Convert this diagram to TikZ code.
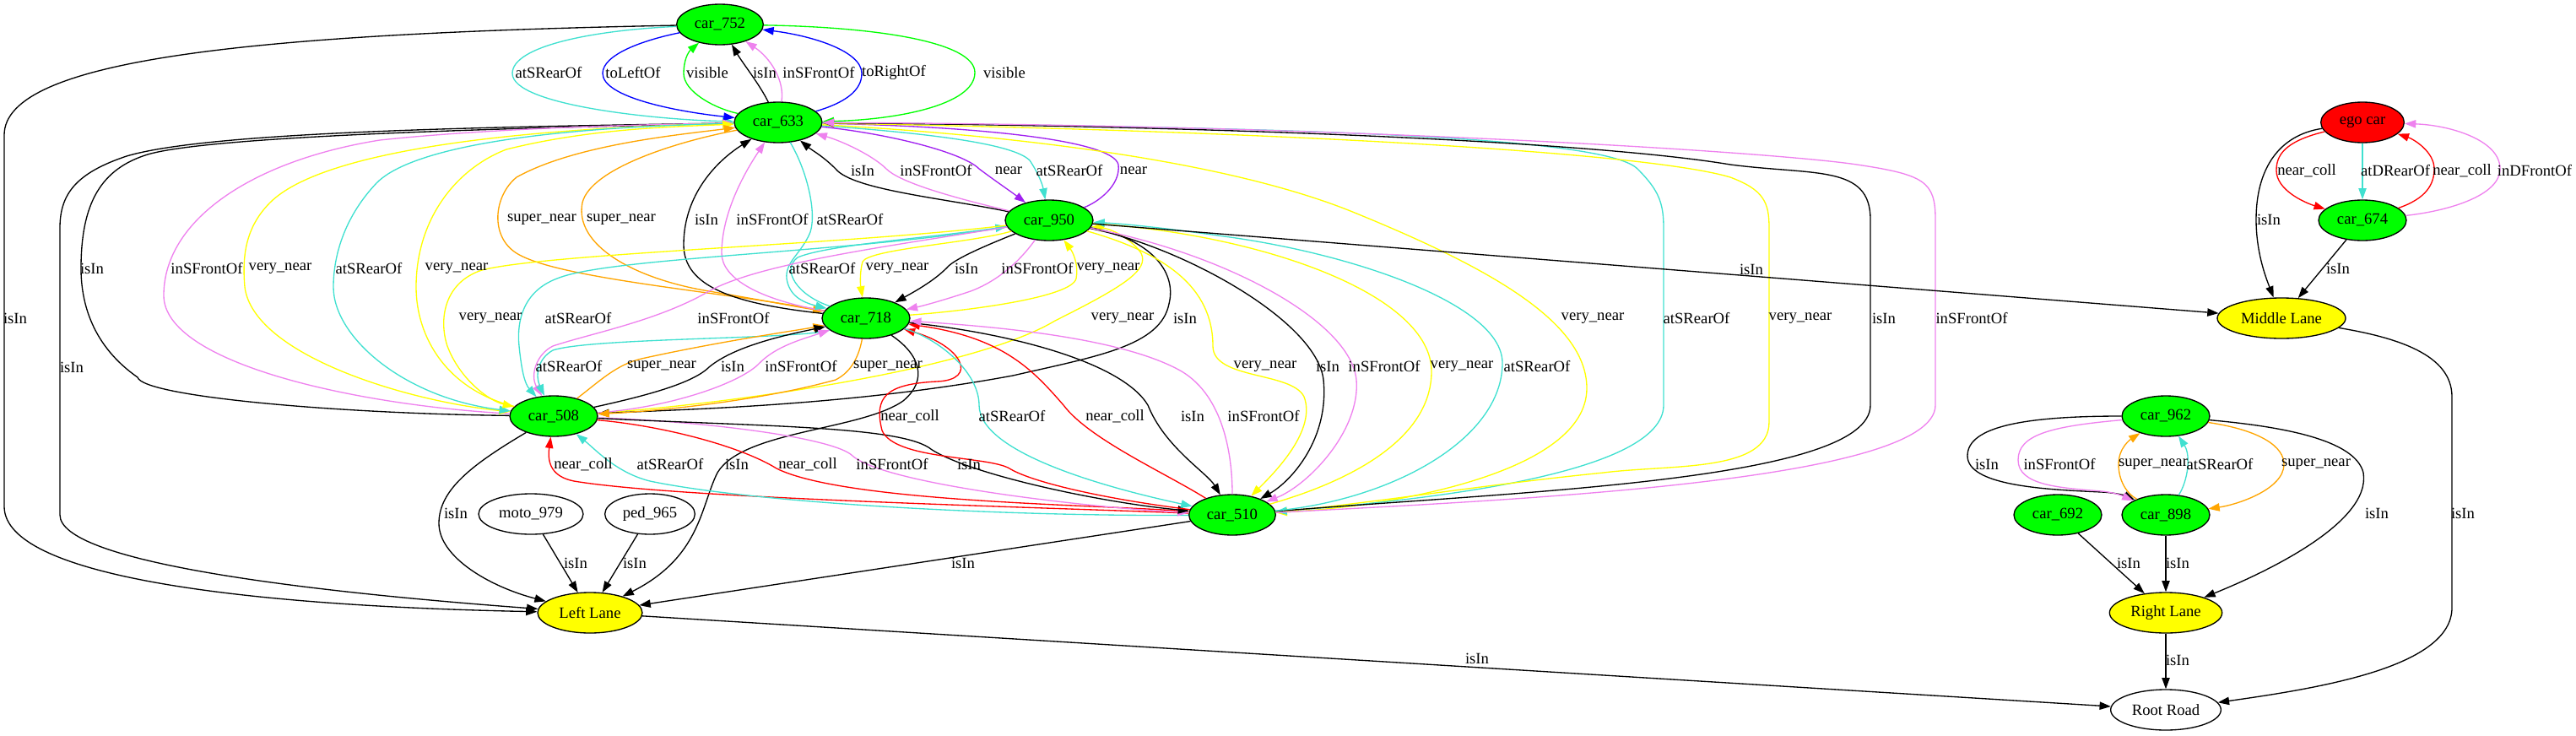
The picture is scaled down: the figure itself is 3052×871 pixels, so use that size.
\documentclass[tikz,border=0pt]{standalone}
\usepackage{fontspec}
\setmainfont{Liberation Serif}
\usetikzlibrary{arrows.meta,shapes.geometric}
\definecolor{gvgreen}{HTML}{00FF00}
\definecolor{gvred}{HTML}{FF0000}
\definecolor{gvyellow}{HTML}{FFFF00}
\definecolor{gvblue}{HTML}{0000FF}
\definecolor{turq}{HTML}{40E0D0}
\definecolor{viol}{HTML}{EE82EE}
\definecolor{orng}{HTML}{FFA500}
\definecolor{purp}{HTML}{A020F0}
\newcommand{\gvfont}{\fontsize{14pt}{16pt}\selectfont}
\tikzset{
 gv/.style={ellipse, draw=black, line width=1pt, inner sep=0pt, minimum height=36pt, font=\gvfont},
 carn/.style={gv, fill=gvgreen, minimum width=78pt},
 lane/.style={gv, fill=gvyellow},
 lbl/.style={inner sep=0pt, font=\gvfont},
 fw/.style={-{Triangle[length=10pt,width=7pt]}, line width=1pt},
 bw/.style={{Triangle[length=10pt,width=7pt]}-, line width=1pt},
}
\begin{document}
\begin{tikzpicture}[x=0.75pt,y=-0.75pt]
\useasboundingbox (0,0) rectangle (3052,871);
% nodes
\node[carn, minimum width=77pt] (c752) at (853,29) {car\_752};
\node[carn] (c633) at (922,145) {car\_633};
\node[carn] (c950) at (1243,261) {car\_950};
\node[carn] (c718) at (1026,377) {car\_718};
\node[carn] (c508) at (656,493) {car\_508};
\node[carn, minimum width=77pt] (c510) at (1460,610) {car\_510};
\node[gv, minimum width=93pt] (moto) at (629,609) {moto\_979};
\node[gv, minimum width=80pt] (ped) at (770,609) {ped\_965};
\node[lane, minimum width=93pt] (LL) at (699,726) {Left Lane};
\node[gv, fill=gvred, minimum width=74pt] (ego) at (2799,145) {ego car};
\node[carn] (c674) at (2799,261) {car\_674};
\node[lane, minimum width=114pt] (ML) at (2703,377) {Middle Lane};
\node[carn] (c962) at (2566,493) {car\_962};
\node[carn] (c692) at (2438,610) {car\_692};
\node[carn] (c898) at (2566,610) {car\_898};
\node[lane, minimum width=100pt] (RL) at (2566,726) {Right Lane};
\node[gv, minimum width=98pt] (RR) at (2566,841) {Root Road};

% car_752 <-> car_633
\draw[fw,turq] (c752) .. controls (700,36) and (607,55) .. (607,87) .. controls (607,125) and (780,142) .. (c633);
\draw[fw,gvblue] (c752) .. controls (760,48) and (714,65) .. (714,87) .. controls (714,115) and (800,132) .. (c633);
\draw[fw,gvgreen] (c633) .. controls (845,128) and (810,108) .. (810,87) .. controls (810,72) and (815,62) .. (c752);
\draw[fw] (c633) .. controls (900,100) and (880,75) .. (c752);
\draw[fw,viol] (c633) .. controls (930,95) and (912,68) .. (c752);
\draw[fw,gvblue] (c633) .. controls (1000,122) and (1021,108) .. (1021,87) .. controls (1021,60) and (960,42) .. (c752);
\draw[fw,gvgreen] (c752) .. controls (1040,32) and (1155,50) .. (1155,86) .. controls (1155,125) and (1060,142) .. (c633);

% far left
\draw[fw] (c752) .. controls (300,40) and (5,70) .. (5,160) -- (5,600) .. controls (5,685) and (300,718) .. (LL);
\draw[fw] (c633) .. controls (600,150) and (250,155) .. (150,185) .. controls (90,205) and (71,230) .. (71,270) -- (71,610) .. controls (71,665) and (350,700) .. (LL);
\draw[fw] (c508) .. controls (400,490) and (170,470) .. (163,447) .. controls (110,410) and (96,360) .. (96,318) .. controls (96,240) and (120,200) .. (175,183) .. controls (260,158) and (700,150) .. (c633);
\draw[fw,viol] (c508) .. controls (420,480) and (194,430) .. (194,350) .. controls (194,260) and (300,190) .. (450,166) .. controls (600,150) and (800,147) .. (c633);
\draw[fw,gvyellow] (c633) .. controls (600,152) and (380,180) .. (320,240) .. controls (290,270) and (287,305) .. (290,340) .. controls (300,420) and (480,475) .. (c508);
\draw[fw,turq] (c633) .. controls (600,152) and (480,182) .. (446,217) .. controls (410,255) and (395,300) .. (395,340) .. controls (395,400) and (480,472) .. (c508);
\draw[fw,gvyellow] (c508) .. controls (530,462) and (493,400) .. (493,340) .. controls (493,260) and (540,200) .. (600,177) .. controls (700,152) and (800,150) .. (c633);

% car_633 <-> car_718
\draw[fw,orng] (c718) .. controls (850,345) and (660,330) .. (612,300) .. controls (580,280) and (585,232) .. (612,210) .. controls (680,172) and (800,160) .. (c633);
\draw[fw,orng] (c633) .. controls (800,168) and (700,200) .. (690,240) .. controls (680,290) and (750,330) .. (840,345) .. controls (900,355) and (935,362) .. (c718);
\draw[fw] (c718) .. controls (870,360) and (810,340) .. (810,290) .. controls (810,230) and (850,190) .. (c633);
\draw[fw,viol] (c718) .. controls (900,355) and (855,330) .. (855,300) .. controls (855,250) and (885,200) .. (c633);
\draw[fw,turq] (c633) .. controls (955,200) and (968,250) .. (960,275) .. controls (950,300) and (930,310) .. (932,330) .. controls (935,350) and (950,358) .. (c718);

% car_633 <-> car_950
\draw[fw] (c950) .. controls (1120,235) and (1010,225) .. (990,200) .. controls (975,185) and (962,178) .. (c633);
\draw[fw,viol] (c950) .. controls (1120,232) and (1065,215) .. (1050,200) .. controls (1035,185) and (1000,168) .. (c633);
\draw[fw,purp] (c633) .. controls (1050,158) and (1140,180) .. (1160,200) .. controls (1180,215) and (1195,225) .. (c950);
\draw[fw,turq] (c633) .. controls (1100,158) and (1200,170) .. (1220,190) .. controls (1230,205) and (1235,218) .. (c950);
\draw[fw,purp] (c950) .. controls (1300,240) and (1328,220) .. (1325,195) .. controls (1318,165) and (1150,150) .. (c633);

% car_633 <-> car_510 (long)
\draw[fw,gvyellow] (c633) .. controls (1200,160) and (1450,190) .. (1600,250) .. controls (1760,315) and (1880,380) .. (1880,460) .. controls (1880,560) and (1650,600) .. (c510);
\draw[fw,turq] (c633) .. controls (1500,150) and (1900,160) .. (1940,200) .. controls (1965,225) and (1971,240) .. (1971,270) -- (1971,480) .. controls (1971,560) and (1700,592) .. (c510);
\draw[bw,gvyellow] (c633) .. controls (1500,155) and (1950,180) .. (2050,210) .. controls (2090,225) and (2096,240) .. (2096,270) -- (2096,500) .. controls (2096,560) and (1980,550) .. (1900,560) .. controls (1750,575) and (1600,600) .. (c510);
\draw[bw] (c633) .. controls (1500,150) and (1900,170) .. (2050,195) .. controls (2150,208) and (2216,195) .. (2216,260) -- (2216,480) .. controls (2216,570) and (1800,582) .. (c510);
\draw[bw,viol] (c633) .. controls (1600,148) and (2100,180) .. (2200,195) .. controls (2280,207) and (2293,215) .. (2293,260) -- (2293,480) .. controls (2293,570) and (1800,592) .. (c510);

% car_950 <-> car_718
\draw[fw,turq] (c718) .. controls (945,350) and (925,320) .. (945,305) .. controls (980,290) and (1100,282) .. (c950);
\draw[fw,gvyellow] (c950) .. controls (1150,288) and (1030,295) .. (1022,310) .. controls (1019,320) and (1019,335) .. (c718);
\draw[fw] (c950) .. controls (1170,290) and (1135,305) .. (1124,315) .. controls (1110,330) and (1090,342) .. (c718);
\draw[fw,viol] (c950) .. controls (1215,300) and (1190,330) .. (1150,345) .. controls (1120,355) and (1095,362) .. (c718);
\draw[fw,gvyellow] (c718) .. controls (1150,368) and (1270,352) .. (1275,330) .. controls (1278,315) and (1272,300) .. (c950);

% car_950 <-> car_508
\draw[fw,gvyellow] (c950) .. controls (1000,290) and (650,300) .. (571,320) .. controls (525,335) and (520,380) .. (530,410) .. controls (545,450) and (580,475) .. (c508);
\draw[fw,turq] (c950) .. controls (1000,300) and (720,305) .. (660,330) .. controls (620,345) and (612,380) .. (615,410) .. controls (618,440) and (622,455) .. (c508);
\draw[fw,viol] (c950) .. controls (1050,292) and (900,312) .. (840,345) .. controls (780,380) and (700,395) .. (655,410) .. controls (635,420) and (628,445) .. (c508);
\draw[fw,gvyellow] (c508) .. controls (850,480) and (1150,440) .. (1250,380) .. controls (1330,340) and (1362,320) .. (1352,300) .. controls (1342,285) and (1320,272) .. (c950);
\draw[fw] (c950) .. controls (1360,282) and (1395,320) .. (1385,360) .. controls (1375,410) and (1300,422) .. (1200,445) .. controls (1000,482) and (800,485) .. (c508);

% car_718 <-> car_508
\draw[fw,turq] (c718) .. controls (950,402) and (700,400) .. (655,415) .. controls (637,425) and (634,445) .. (c508);
\draw[fw,orng] (c508) .. controls (710,452) and (730,432) .. (760,425) .. controls (850,405) and (940,392) .. (c718);
\draw[fw] (c508) .. controls (760,470) and (820,455) .. (840,435) .. controls (870,410) and (930,397) .. (c718);
\draw[fw,viol] (c508) .. controls (800,482) and (880,452) .. (900,430) .. controls (920,410) and (950,402) .. (c718);
\draw[fw,orng] (c718) .. controls (1018,420) and (1010,440) .. (990,450) .. controls (900,475) and (780,487) .. (c508);

% car_718 -> Left Lane
\draw[fw] (c718) .. controls (1090,420) and (1100,450) .. (1070,475) .. controls (1020,510) and (880,510) .. (850,560) .. controls (830,600) and (830,660) .. (LL);

% car_508 <-> car_510
\draw[fw,gvred] (c510) .. controls (1200,600) and (800,590) .. (680,570) .. controls (655,565) and (648,550) .. (c508);
\draw[fw,turq] (c510) .. controls (1200,612) and (900,597) .. (770,570) .. controls (730,560) and (705,532) .. (c508);
\draw[fw,gvred] (c508) .. controls (790,505) and (880,530) .. (920,555) .. controls (1000,595) and (1300,598) .. (c510);
\draw[fw,viol] (c508) .. controls (850,500) and (990,520) .. (1010,540) .. controls (1050,575) and (1300,602) .. (c510);
\draw[fw] (c508) .. controls (900,505) and (1060,505) .. (1100,530) .. controls (1140,560) and (1300,595) .. (c510);

% car_718 <-> car_510
\draw[fw,gvred] (c510) .. controls (1300,590) and (1220,570) .. (1196,555) .. controls (1170,540) and (1060,545) .. (1045,510) .. controls (1035,470) and (1050,455) .. (1110,452) .. controls (1160,450) and (1140,410) .. (c718);
\draw[fw,turq] (c718) .. controls (1110,400) and (1160,440) .. (1160,480) .. controls (1160,540) and (1330,582) .. (c510);
\draw[fw,gvred] (c510) .. controls (1380,560) and (1290,520) .. (1260,480) .. controls (1225,440) and (1190,400) .. (c718);
\draw[fw] (c718) .. controls (1200,395) and (1330,430) .. (1360,480) .. controls (1380,530) and (1430,560) .. (c510);
\draw[fw,viol] (c510) .. controls (1460,540) and (1450,470) .. (1400,440) .. controls (1330,400) and (1180,387) .. (c718);

% car_950 <-> car_510
\draw[fw,gvyellow] (c950) .. controls (1380,300) and (1437,340) .. (1437,410) .. controls (1437,450) and (1530,440) .. (1545,470) .. controls (1560,510) and (1510,560) .. (c510);
\draw[fw] (c950) .. controls (1400,292) and (1560,380) .. (1568,450) .. controls (1575,520) and (1530,570) .. (c510);
\draw[fw,viol] (c950) .. controls (1450,300) and (1600,380) .. (1607,450) .. controls (1612,510) and (1550,575) .. (c510);
\draw[fw,gvyellow] (c510) .. controls (1600,570) and (1696,520) .. (1696,440) .. controls (1696,350) and (1500,280) .. (c950);
\draw[fw,turq] (c510) .. controls (1650,592) and (1780,520) .. (1780,430) .. controls (1780,360) and (1600,300) .. (1450,280) .. controls (1380,270) and (1330,265) .. (c950);

% lanes
\draw[fw] (c950) -- (ML);
\draw[fw] (c510) -- (LL);
\draw[fw] (c508) .. controls (560,550) and (520,580) .. (520,620) .. controls (520,660) and (580,695) .. (LL);
\draw[fw] (moto) -- (LL);
\draw[fw] (ped) -- (LL);
\draw[fw] (LL) -- (RR);

% right part
\draw[fw,gvred] (ego) .. controls (2705,168) and (2697,185) .. (2697,202) .. controls (2697,225) and (2730,240) .. (c674);
\draw[fw,turq] (ego) -- (c674);
\draw[fw,gvred] (c674) .. controls (2875,235) and (2884,218) .. (2884,200) .. controls (2884,180) and (2860,165) .. (ego);
\draw[fw,viol] (c674) .. controls (2900,250) and (2962,232) .. (2962,200) .. controls (2962,165) and (2900,148) .. (ego);
\draw[fw] (ego) .. controls (2700,160) and (2673,200) .. (2673,260) .. controls (2673,300) and (2685,330) .. (ML);
\draw[fw] (c674) -- (ML);
\draw[fw] (ML) .. controls (2840,400) and (2905,420) .. (2905,470) -- (2905,720) .. controls (2905,790) and (2750,815) .. (RR);
\draw[fw] (c962) .. controls (2700,505) and (2790,520) .. (2800,560) .. controls (2810,620) and (2680,680) .. (RL);
\draw[fw] (c962) .. controls (2400,493) and (2331,505) .. (2331,540) .. controls (2331,575) and (2420,580) .. (2490,583) .. controls (2510,584) and (2520,588) .. (c898);
\draw[fw,viol] (c962) .. controls (2430,505) and (2391,515) .. (2391,545) .. controls (2391,575) and (2440,578) .. (2490,582) .. controls (2510,584) and (2520,590) .. (c898);
\draw[fw,orng] (c898) .. controls (2520,585) and (2510,570) .. (2510,550) .. controls (2510,530) and (2525,520) .. (c962);
\draw[fw,turq] (c898) .. controls (2592,570) and (2596,540) .. (c962);
\draw[fw,orng] (c962) .. controls (2680,510) and (2706,530) .. (2706,550) .. controls (2706,580) and (2650,598) .. (c898);
\draw[fw] (c692) -- (RL);
\draw[fw] (c898) -- (RL);
\draw[fw] (RL) -- (RR);

% labels
\node[lbl] (l01) at (650,86) {atSRearOf};
\node[lbl] (l02) at (750,86) {toLeftOf};
\node[lbl] (l03) at (838,86) {visible};
\node[lbl] (l04) at (906,86) {isIn};
\node[lbl] (l05) at (970,86) {inSFrontOf};
\node[lbl] (l06) at (1059,86) {toRightOf};
\node[lbl] (l07) at (1190,86) {visible};
\node[lbl] (l08) at (18,377) {isIn};
\node[lbl] (l09) at (85,435) {isIn};
\node[lbl] (l10) at (109,318) {isIn};
\node[lbl] (l11) at (245,318) {inSFrontOf};
\node[lbl] (l12) at (332,318) {very\_near};
\node[lbl] (l13) at (437,318) {atSRearOf};
\node[lbl] (l14) at (541,318) {very\_near};
\node[lbl] (l15) at (974,318) {atSRearOf};
\node[lbl] (l16) at (1063,318) {very\_near};
\node[lbl] (l17) at (1145,318) {isIn};
\node[lbl] (l18) at (1229,318) {inSFrontOf};
\node[lbl] (l19) at (1313,318) {very\_near};
\node[lbl] (l20) at (2075,319) {isIn};
\node[lbl] (l21) at (642,260) {super\_near};
\node[lbl] (l22) at (736,260) {super\_near};
\node[lbl] (l23) at (837,260) {isIn};
\node[lbl] (l24) at (915,260) {inSFrontOf};
\node[lbl] (l25) at (1007,260) {atSRearOf};
\node[lbl] (l26) at (2688,260) {isIn};
\node[lbl] (l27) at (1022,202) {isIn};
\node[lbl] (l28) at (1109,202) {inSFrontOf};
\node[lbl] (l29) at (1195,202) {near};
\node[lbl] (l30) at (1267,202) {atSRearOf};
\node[lbl] (l31) at (1343,202) {near};
\node[lbl] (l32) at (2733,202) {near\_coll};
\node[lbl] (l33) at (2838,202) {atDRearOf};
\node[lbl] (l34) at (2917,202) {near\_coll};
\node[lbl] (l35) at (3003,202) {inDFrontOf};
\node[lbl] (l36) at (581,377) {very\_near};
\node[lbl] (l37) at (685,377) {atSRearOf};
\node[lbl] (l38) at (869,377) {inSFrontOf};
\node[lbl] (l39) at (1330,377) {very\_near};
\node[lbl] (l40) at (1404,377) {isIn};
\node[lbl] (l41) at (1887,377) {very\_near};
\node[lbl] (l42) at (2010,377) {atSRearOf};
\node[lbl] (l43) at (2133,377) {very\_near};
\node[lbl] (l44) at (2232,377) {isIn};
\node[lbl] (l45) at (2336,377) {inSFrontOf};
\node[lbl] (l46) at (674,434) {atSRearOf};
\node[lbl] (l47) at (784,434) {super\_near};
\node[lbl] (l48) at (868,434) {isIn};
\node[lbl] (l49) at (949,434) {inSFrontOf};
\node[lbl] (l50) at (1052,434) {super\_near};
\node[lbl] (l51) at (1499,434) {very\_near};
\node[lbl] (l52) at (1573,434) {isIn};
\node[lbl] (l53) at (1640,434) {inSFrontOf};
\node[lbl] (l54) at (1732,434) {very\_near};
\node[lbl] (l55) at (1821,434) {atSRearOf};
\node[lbl] (l56) at (1078,493) {near\_coll};
\node[lbl] (l57) at (1199,493) {atSRearOf};
\node[lbl] (l58) at (1321,493) {near\_coll};
\node[lbl] (l59) at (1413,493) {isIn};
\node[lbl] (l60) at (1497,493) {inSFrontOf};
\node[lbl] (l61) at (691,550) {near\_coll};
\node[lbl] (l62) at (794,550) {atSRearOf};
\node[lbl] (l63) at (873,550) {isIn};
\node[lbl] (l64) at (957,550) {near\_coll};
\node[lbl] (l65) at (1057,550) {inSFrontOf};
\node[lbl] (l66) at (1148,550) {isIn};
\node[lbl] (l67) at (2354,550) {isIn};
\node[lbl] (l68) at (2440,550) {inSFrontOf};
\node[lbl] (l69) at (2551,550) {super\_near};
\node[lbl] (l70) at (2630,550) {atSRearOf};
\node[lbl] (l71) at (2744,550) {super\_near};
\node[lbl] (l72) at (540,608) {isIn};
\node[lbl] (l73) at (2816,608) {isIn};
\node[lbl] (l74) at (2918,608) {isIn};
\node[lbl] (l75) at (682,667) {isIn};
\node[lbl] (l76) at (752,667) {isIn};
\node[lbl] (l77) at (1141,667) {isIn};
\node[lbl] (l78) at (2522,667) {isIn};
\node[lbl] (l79) at (2580,667) {isIn};
\node[lbl] (l80) at (1750,780) {isIn};
\node[lbl] (l81) at (2580,782) {isIn};
\node[lbl] (l82) at (2770,318) {isIn};
\end{tikzpicture}
\end{document}
